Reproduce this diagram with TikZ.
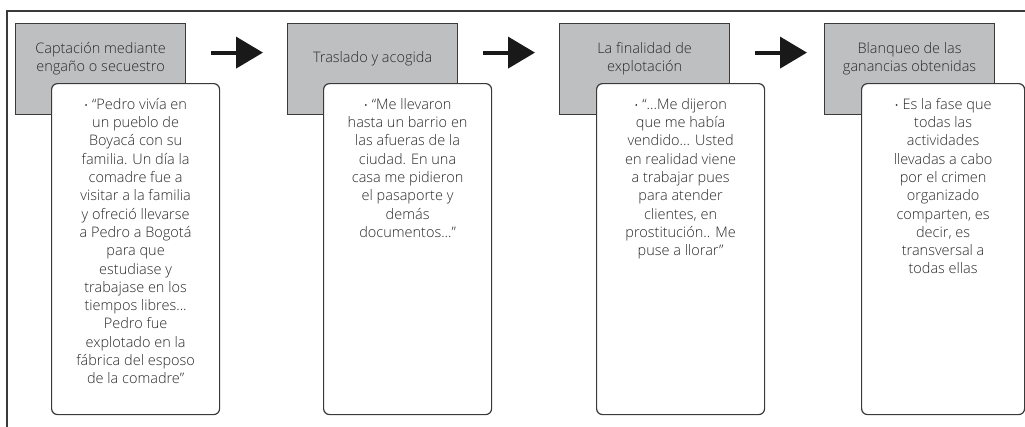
\documentclass[tikz,border=0pt]{standalone}
\usepackage{fontspec}
\setmainfont{Open Sans}[UprightFont=* Light]
\usetikzlibrary{arrows.meta}
\usetikzlibrary{positioning}
\definecolor{boxgray}{RGB}{190,191,193}
\definecolor{linegray}{RGB}{58,58,58}
\definecolor{textgray}{RGB}{40,40,40}
\newcommand{\bul}{{\fontsize{11}{11}\selectfont\textbullet}~}

\begin{document}
\begin{tikzpicture}[x=1pt,y=-1pt,
    head box/.style={rectangle,draw=linegray,fill=boxgray,line width=1.2pt,anchor=north west,minimum width=170pt,minimum height=91pt,inner sep=0pt},
    quote box/.style={rectangle,rounded corners=6pt,draw=linegray,fill=white,line width=1.2pt,anchor=north west,minimum width=168pt,minimum height=331pt,inner sep=0pt},
    head text/.style={align=center,text=textgray,inner sep=0pt,font=\fontsize{14.5}{17.5}\selectfont},
    quote text/.style={align=center,text=textgray,inner sep=0pt,font=\fontsize{14.5}{18.3}\selectfont},
    flow/.style={-{Triangle[length=27pt,width=31pt]},line width=4pt,color=black!90}]
  \useasboundingbox (0,0) rectangle (1025,426);
  % frame
  \draw[linegray,line width=1.4pt] (7,430) -- (7,11) -- (1030,11);

  % header boxes
  \node[head box] (g1) at (15,23) {};
  \node[head box] (g2) at (287,23) {};
  \node[head box] (g3) at (559,23) {};
  \node[head box] (g4) at (824,23) {};

  \node[head text] (h1) at ([yshift=10.5pt]g1.center) {Captación mediante\\engaño o secuestro};
  \node[head text] (h2) at ([yshift=10.5pt]g2.center) {Traslado y acogida};
  \node[head text] (h3) at ([yshift=10.5pt]g3.center) {La finalidad de\\explotación};
  \node[head text] (h4) at ([yshift=10.5pt]g4.center) {Blanqueo de las\\ganancias obtenidas};

  % quote boxes
  \node[quote box] (w1) at (51,83) {};
  \node[quote box] (w2) at (323,83) {};
  \node[quote box] (w3) at (596,83) {};
  \node[quote box,minimum width=163pt] (w4) at (861,83) {};

  \node[quote text,below=15pt of w1.north,anchor=north] (q1) {\bul “Pedro vivía en\\un pueblo de\\Boyacá con su\\familia. Un día la\\comadre fue a\\visitar a la familia\\y ofreció llevarse\\a Pedro a Bogotá\\para que\\estudiase y\\trabajase en los\\tiempos libres...\\Pedro fue\\explotado en la\\fábrica del esposo\\de la comadre”};
  \node[quote text,below=15pt of w2.north,anchor=north] (q2) {\bul “Me llevaron\\hasta un barrio en\\las afueras de la\\ciudad. En una\\casa me pidieron\\el pasaporte y\\demás\\documentos...”};
  \node[quote text,below=15pt of w3.north,anchor=north] (q3) {\bul “...Me dijeron\\que me había\\vendido... Usted\\en realidad viene\\a trabajar pues\\para atender\\clientes, en\\prostitución.. Me\\puse a llorar”};
  \node[quote text,below=15pt of w4.north,anchor=north] (q4) {\bul Es la fase que\\todas las\\actividades\\llevadas a cabo\\por el crimen\\organizado\\comparten, es\\decir, es\\transversal a\\todas ellas};

  % arrows between phases
  \draw[flow,shorten <=25pt,shorten >=24pt] ([yshift=16.5pt]g1.east) -- ([yshift=16.5pt]g2.west);
  \draw[flow,shorten <=25pt,shorten >=24pt] ([yshift=16.5pt]g2.east) -- ([yshift=16.5pt]g3.west);
  \draw[flow,shorten <=25pt,shorten >=17pt] ([yshift=16.5pt]g3.east) -- ([yshift=16.5pt]g4.west);
\end{tikzpicture}
\end{document}
